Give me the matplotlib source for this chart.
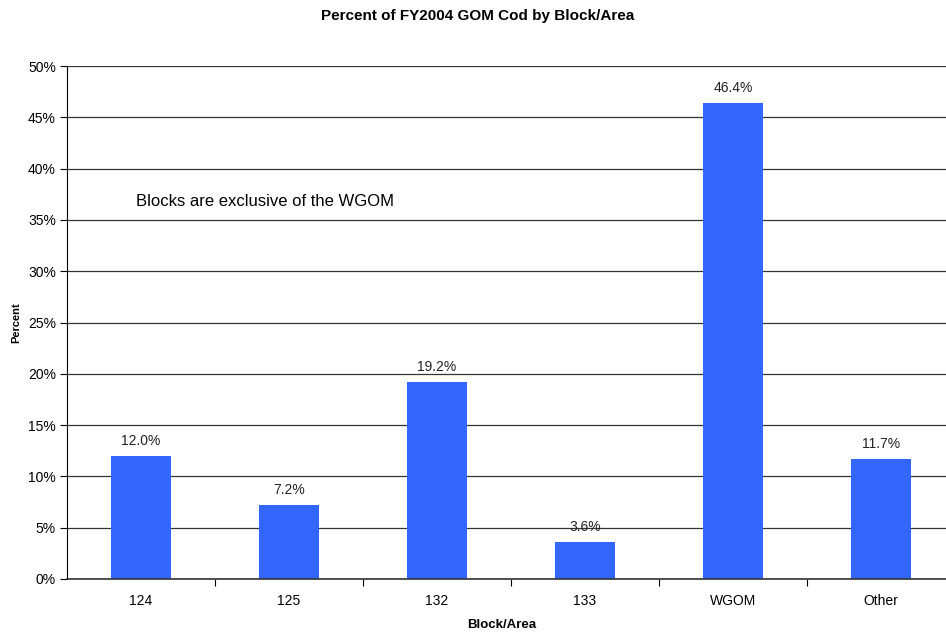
import matplotlib
matplotlib.use("Agg")
import matplotlib.pyplot as plt
from matplotlib.ticker import FuncFormatter

categories = ["124", "125", "132", "133", "WGOM", "Other"]
percents = [12.0, 7.2, 19.2, 3.6, 46.4, 11.7]
yticks = [0, 5, 10, 15, 20, 25, 30, 35, 40, 45, 50]

plt.rcParams["font.family"] = ["Liberation Sans", "DejaVu Sans"]

fig = plt.figure(figsize=(9.46, 6.35), dpi=100)
# plot area runs a little past the right edge, as in the reference
ax = fig.add_axes([67 / 946, 56 / 635, 888 / 946, 513 / 635])

x = list(range(len(categories)))
ax.bar(x, percents, width=0.405, color="#3366FF", zorder=3)
for xi, v in zip(x, percents):
    ax.text(xi, v + 0.8, f"{v:.1f}%", ha="center", va="bottom", fontsize=10, color="#222222")

ax.set_xlim(-0.5, len(categories) - 0.5)
ax.set_ylim(0, 50)
ax.set_yticks(yticks)
ax.yaxis.set_major_formatter(FuncFormatter(lambda v, p: f"{v:.0f}%"))
ax.yaxis.grid(True, color="#333333", linewidth=0.9, zorder=0)
ax.tick_params(axis="y", length=5, labelsize=10, direction="out", pad=3)

# x ticks sit on the category boundaries
ax.set_xticks([i + 0.5 for i in x[:-1]], minor=False)
ax.set_xticklabels([])
ax.set_xticks(x, minor=True)
ax.set_xticklabels(categories, minor=True, fontsize=10)
ax.tick_params(axis="x", which="major", length=5, direction="out")
ax.tick_params(axis="x", which="minor", length=0, pad=11)

for s in ["top", "right"]:
    ax.spines[s].set_visible(False)
ax.spines["left"].set_color("black")
ax.spines["bottom"].set_color("#333333")
ax.spines["bottom"].set_linewidth(1.2)
ax.spines["bottom"].set_zorder(4)

fig.text(136 / 946, 1 - 202 / 635, "Blocks are exclusive of the WGOM", fontsize=12,
         va="center", ha="left")

ax.set_xlabel("Block/Area", fontsize=9.5, fontweight="bold")
ax.xaxis.set_label_coords(0.5 - 9 / 888, -40 / 513)
ax.set_ylabel("Percent", fontsize=8, fontweight="bold")
ax.yaxis.set_label_coords(-46 / 888, 0.5)
fig.suptitle("Percent of FY2004 GOM Cod by Block/Area", x=478 / 946, y=1 - 16 / 635,
             va="center", fontsize=11, fontweight="bold")

fig.savefig("out.png", dpi=100)
